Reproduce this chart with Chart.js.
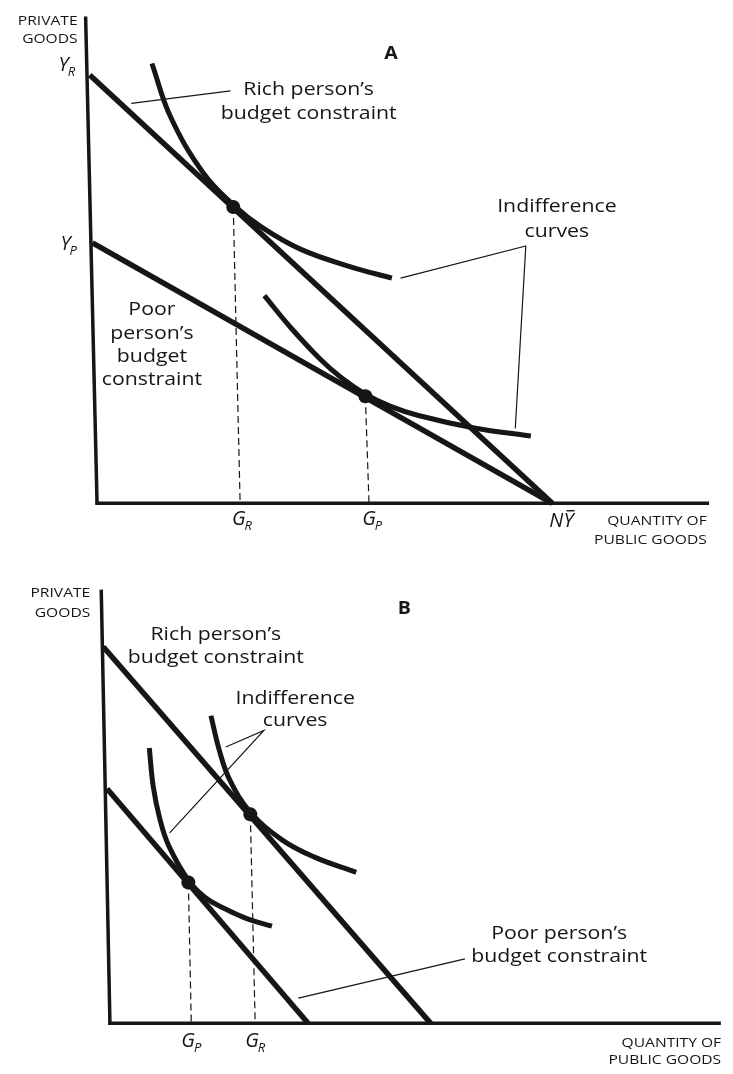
<!DOCTYPE html>
<html><head><meta charset="utf-8">
<script src="https://cdn.jsdelivr.net/npm/chart.js@4.4.1/dist/chart.umd.min.js"></script>
<style>
html,body{margin:0;padding:0;background:#fff;}
#wa{position:absolute;left:0;top:0;width:733px;height:560px;}
#wb{position:absolute;left:0;top:560px;width:733px;height:514px;}
</style></head>
<body>
<div id="wa"><canvas id="ca" width="733" height="560"></canvas></div>
<div id="wb"><canvas id="cb" width="733" height="514"></canvas></div>
<script>
// ---------- PANEL A data (units: public goods on x, private goods on y) ----------
const aXRange = [-1.93, 13.8];
const aYRange = [-1.16, 11.59];
const aAxisX = [[0, 0], [13.43, 0]];
const aAxisY = [[0.04, 0], [-0.21, 11.37]];
const aRichBudget = [[-0.12, 10], [10, 0]];
const aPoorBudget = [[-0.06, 6.08], [10, 0]];
const aRichIC = [[1.24, 10.27], [1.65, 9.02], [2.36, 7.72], [3.02, 6.97], [3.64, 6.45], [4.50, 5.93], [5.57, 5.53], [6.49, 5.26]];
const aPoorIC = [[3.70, 4.85], [4.28, 4.10], [4.93, 3.36], [5.40, 2.92], [5.91, 2.55], [6.45, 2.27], [7.07, 2.05], [8.29, 1.76], [9.53, 1.57]];
const aOptima = [[3.02, 6.92], [5.91, 2.5]];
const aDropR = [[3.02, 6.92], [3.17, 0]];
const aDropP = [[5.91, 2.5], [5.99, 0]];
const aRichLeader = [[0.79, 9.34], [2.96, 9.63]];
const aICLeader = [[6.68, 5.26], [9.42, 6.01], [9.19, 1.75]];

// ---------- PANEL B data ----------
const bXRange = [-3.13, 19.15];
const bYRange = [-1.16, 12.12];
const bAxisX = [[0, 0], [18.99, 0]];
const bAxisY = [[0.06, 0], [-0.21, 11.52]];
const bRichBudget = [[-0.15, 10], [10, 0]];
const bPoorBudget = [[-0.03, 6.23], [6.2, 0]];
const bRichIC = [[3.19, 8.17], [3.45, 7.25], [3.78, 6.45], [4.41, 5.61], [5.38, 4.88], [6.38, 4.42], [7.69, 4.01]];
const bPoorIC = [[1.28, 7.31], [1.40, 6.30], [1.60, 5.45], [1.88, 4.72], [2.49, 3.80], [3.00, 3.35], [3.56, 3.07], [4.30, 2.78], [5.08, 2.58]];
const bOptima = [[4.41, 5.55], [2.49, 3.74]];
const bDropR = [[4.41, 5.55], [4.56, 0]];
const bDropP = [[2.49, 3.74], [2.58, 0]];
const bICLeader = [[3.65, 7.34], [4.83, 7.78], [1.91, 5.06]];
const bPoorLeader = [[11.06, 1.71], [5.90, 0.67]];

// ---------- text ----------
const axisYTitle = ['PRIVATE', 'GOODS'];
const axisXTitle = ['QUANTITY OF', 'PUBLIC GOODS'];
const richText = ["Rich person\u2019s", 'budget constraint'];
const poorTextA = ['Poor', 'person\u2019s', 'budget', 'constraint'];
const poorTextB = ["Poor person\u2019s", 'budget constraint'];
const icText = ['Indifference', 'curves'];

const INK = '#161616';
const FAM = '"Open Sans", "DejaVu Sans", sans-serif';

// annotation placements (data units)
const annA = [
  {k:'t', text:axisYTitle[0], x:-0.385, y:11.25, size:13, sx:1.2, align:'right'},
  {k:'t', text:axisYTitle[1], x:-0.385, y:10.84, size:13, sx:1.2, align:'right'},
  {k:'s', main:'Y', sub:'R', x:-0.62, y:10.18},
  {k:'s', main:'Y', sub:'P', x:-0.58, y:6.01},
  {k:'t', text:'A', x:6.47, y:10.5, size:17, weight:'bold', sx:1.15},
  {k:'t', text:richText[0], x:4.67, y:9.66, size:18.5, sx:1.15},
  {k:'t', text:richText[1], x:4.67, y:9.09, size:18.5, sx:1.15},
  {k:'t', text:icText[0], x:10.1, y:6.92, size:18.5, sx:1.15},
  {k:'t', text:icText[1], x:10.1, y:6.35, size:18.5, sx:1.15},
  {k:'t', text:poorTextA[0], x:1.24, y:4.51, size:18.5, sx:1.15},
  {k:'t', text:poorTextA[1], x:1.24, y:3.96, size:18.5, sx:1.15},
  {k:'t', text:poorTextA[2], x:1.24, y:3.42, size:18.5, sx:1.15},
  {k:'t', text:poorTextA[3], x:1.24, y:2.89, size:18.5, sx:1.15},
  {k:'s', main:'G', sub:'R', x:3.21, y:-0.43},
  {k:'s', main:'G', sub:'P', x:6.06, y:-0.43},
  {k:'ny', x:10.2, y:-0.43},
  {k:'t', text:axisXTitle[0], x:13.38, y:-0.43, size:13, sx:1.2, align:'right'},
  {k:'t', text:axisXTitle[1], x:13.38, y:-0.86, size:13, sx:1.2, align:'right'}
];
const annB = [
  {k:'t', text:axisYTitle[0], x:-0.55, y:11.42, size:13, sx:1.2, align:'right'},
  {k:'t', text:axisYTitle[1], x:-0.55, y:10.88, size:13, sx:1.2, align:'right'},
  {k:'t', text:'B', x:9.18, y:11.01, size:17, weight:'bold', sx:1.15},
  {k:'t', text:richText[0], x:3.34, y:10.31, size:18.5, sx:1.15},
  {k:'t', text:richText[1], x:3.34, y:9.72, size:18.5, sx:1.15},
  {k:'t', text:icText[0], x:5.8, y:8.63, size:18.5, sx:1.15},
  {k:'t', text:icText[1], x:5.8, y:8.04, size:18.5, sx:1.15},
  {k:'t', text:poorTextB[0], x:13.98, y:2.38, size:18.5, sx:1.15},
  {k:'t', text:poorTextB[1], x:13.98, y:1.78, size:18.5, sx:1.15},
  {k:'s', main:'G', sub:'P', x:2.58, y:-0.54},
  {k:'s', main:'G', sub:'R', x:4.56, y:-0.54},
  {k:'t', text:axisXTitle[0], x:19.0, y:-0.52, size:13, sx:1.2, align:'right'},
  {k:'t', text:axisXTitle[1], x:19.0, y:-0.98, size:13, sx:1.2, align:'right'}
];

function pts(a){ return a.map(p => ({x:p[0], y:p[1]})); }
function ln(a, w, extra){ return Object.assign({data:pts(a), showLine:true, borderColor:INK, backgroundColor:INK, borderWidth:w, pointRadius:0, fill:false, tension:0}, extra||{}); }

const textPlugin = {
  id:'econText',
  afterDatasetsDraw(chart, args, opts){
    const ctx = chart.ctx, xs = chart.scales.x, ys = chart.scales.y;
    ctx.save();
    ctx.fillStyle = INK; ctx.strokeStyle = INK;
    for (const a of opts.items){
      const px = xs.getPixelForValue(a.x), py = ys.getPixelForValue(a.y);
      if (a.k === 't'){
        ctx.save();
        ctx.translate(px, py); ctx.scale(a.sx||1, 1);
        ctx.font = (a.weight||'normal') + ' ' + a.size + 'px ' + FAM;
        ctx.textAlign = a.align||'center'; ctx.textBaseline = 'middle';
        ctx.fillText(a.text, 0, 0);
        ctx.restore();
      } else if (a.k === 's'){
        const fm = 'italic 20px ' + FAM, fs = 'italic 13px ' + FAM;
        ctx.font = fm; const w1 = ctx.measureText(a.main).width;
        ctx.font = fs; const w2 = ctx.measureText(a.sub).width;
        const x0 = px - (w1 + w2 - 1)/2;
        ctx.textAlign = 'left'; ctx.textBaseline = 'middle';
        ctx.font = fm; ctx.fillText(a.main, x0, py - 2);
        ctx.font = fs; ctx.fillText(a.sub, x0 + w1 - 1, py + 5);
      } else if (a.k === 'ny'){
        const fm = 'italic 20px ' + FAM;
        ctx.font = fm; ctx.textAlign = 'left'; ctx.textBaseline = 'middle';
        const wN = ctx.measureText('N').width, wY = ctx.measureText('Y').width;
        const x0 = px - (wN + wY)/2;
        ctx.fillText('N', x0, py);
        ctx.fillText('Y', x0 + wN, py);
        ctx.lineWidth = 1.4;
        ctx.beginPath(); ctx.moveTo(x0 + wN + 3, py - 11); ctx.lineTo(x0 + wN + wY + 1, py - 11); ctx.stroke();
      }
    }
    ctx.restore();
  }
};

function makeChart(id, xr, yr, datasets, items){
  return new Chart(document.getElementById(id), {
    type:'scatter',
    data:{datasets},
    options:{
      responsive:false, animation:false, events:[],
      layout:{padding:0},
      scales:{
        x:{type:'linear', min:xr[0], max:xr[1], display:false},
        y:{type:'linear', min:yr[0], max:yr[1], display:false}
      },
      plugins:{legend:{display:false}, tooltip:{enabled:false}, econText:{items}}
    },
    plugins:[textPlugin]
  });
}

const dash = {borderDash:[7,4]};
const smooth = {tension:0.4, borderCapStyle:'butt', borderJoinStyle:'round'};
const dotStyle = {showLine:false, pointRadius:7, pointBackgroundColor:INK, pointBorderColor:INK, pointBorderWidth:0};

makeChart('ca', aXRange, aYRange, [
  ln(aAxisX, 3.5), ln(aAxisY, 3.5),
  ln(aRichBudget, 5.5), ln(aPoorBudget, 5.5),
  ln(aRichIC, 5, smooth), ln(aPoorIC, 5, smooth),
  ln(aDropR, 1.2, dash), ln(aDropP, 1.2, dash),
  ln(aRichLeader, 1.2), ln(aICLeader, 1.2),
  Object.assign({data:pts(aOptima)}, dotStyle)
], annA);

makeChart('cb', bXRange, bYRange, [
  ln(bAxisX, 3.5), ln(bAxisY, 3.5),
  ln(bRichBudget, 5.5), ln(bPoorBudget, 5.5),
  ln(bRichIC, 5, smooth), ln(bPoorIC, 5, smooth),
  ln(bDropR, 1.2, dash), ln(bDropP, 1.2, dash),
  ln(bICLeader, 1.2), ln(bPoorLeader, 1.2),
  Object.assign({data:pts(bOptima)}, dotStyle)
], annB);
</script>
</body></html>
